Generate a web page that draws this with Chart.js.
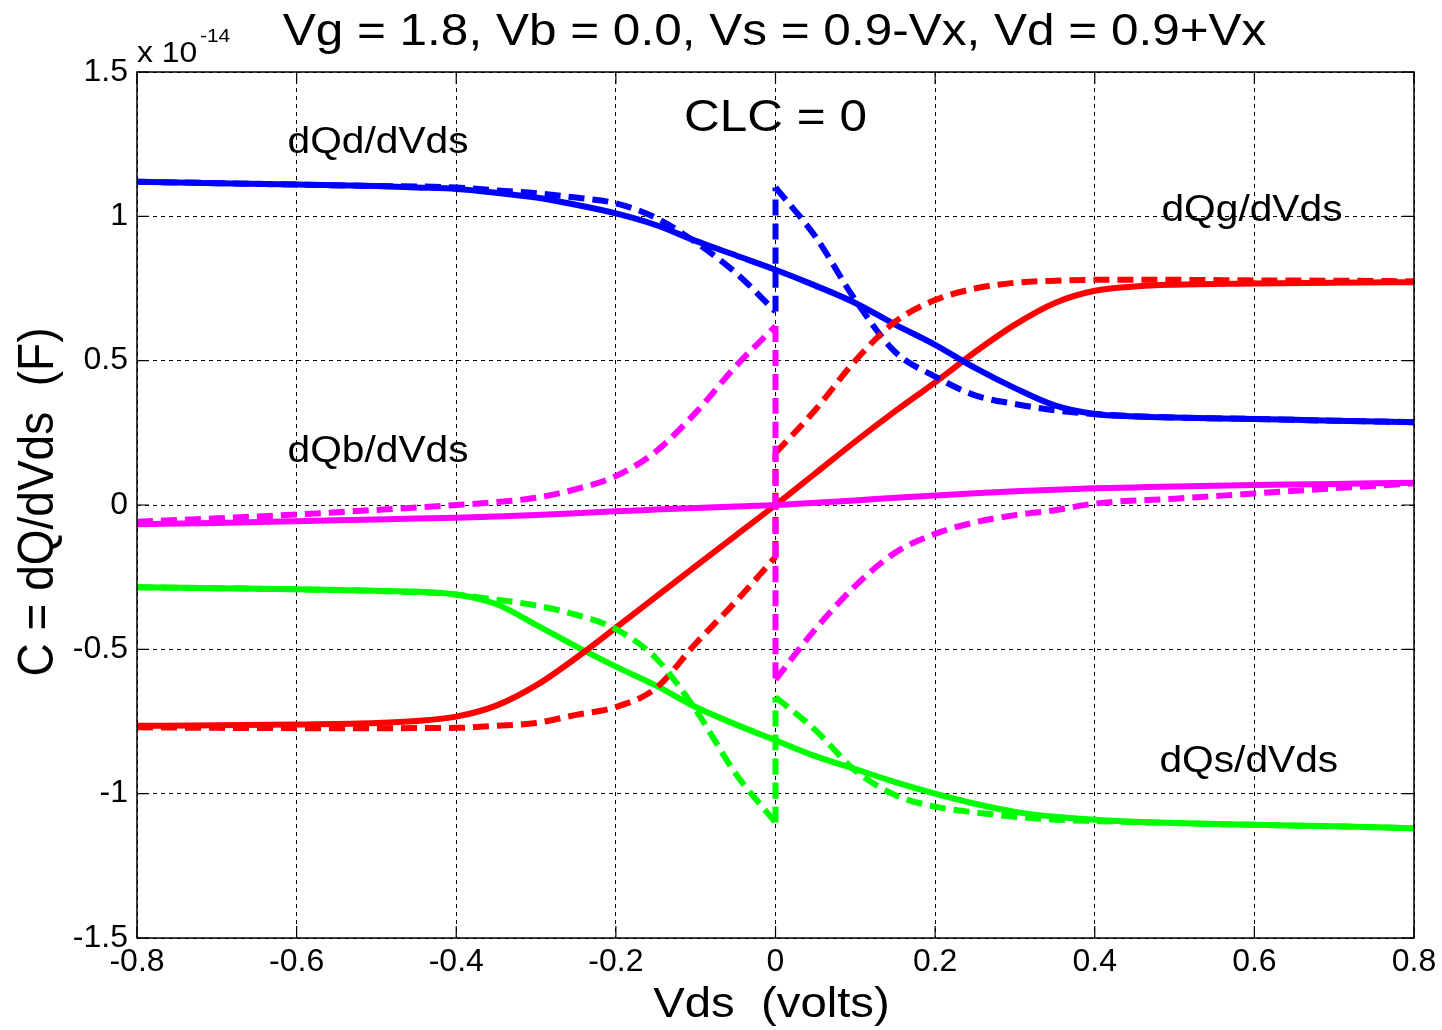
<!DOCTYPE html>
<html><head><meta charset="utf-8">
<script src="https://cdn.jsdelivr.net/npm/chart.js@4/dist/chart.umd.min.js"></script>
<style>html,body{margin:0;padding:0;background:#fff;}#wrap{width:1442px;height:1030px;}</style>
</head><body><div id="wrap"><canvas id="c" width="1442" height="1030"></canvas></div>
<script>
// ---- data (units of 1e-14 F) ----
const xTickVals = [-0.8,-0.6,-0.4,-0.2,0,0.2,0.4,0.6,0.8];
const xTickLabels = ['-0.8','-0.6','-0.4','-0.2','0','0.2','0.4','0.6','0.8'];
const yTickVals = [-1.5,-1,-0.5,0,0.5,1,1.5];
const yTickLabels = ['-1.5','-1','-0.5','0','0.5','1','1.5'];

const xs = [-0.8,-0.7,-0.6,-0.5,-0.45,-0.4,-0.35,-0.3,-0.25,-0.2,-0.15,-0.1,-0.05,0,0.05,0.1,0.15,0.2,0.25,0.3,0.35,0.4,0.45,0.5,0.6,0.7,0.8];
const xLeft = [-0.8,-0.7,-0.6,-0.5,-0.4,-0.35,-0.3,-0.25,-0.2,-0.15,-0.1,-0.05,0];
const xRight = [0,0.05,0.1,0.15,0.2,0.25,0.3,0.35,0.4,0.5,0.6,0.7,0.8];

// solid curves
const dQd = [1.12,1.115,1.11,1.105,1.10,1.095,1.082,1.065,1.04,1.01,0.97,0.915,0.865,0.815,0.76,0.70,0.625,0.555,0.475,0.405,0.345,0.315,0.307,0.303,0.298,0.292,0.287];
const dQg = [-0.765,-0.763,-0.76,-0.755,-0.748,-0.733,-0.695,-0.625,-0.53,-0.425,-0.318,-0.212,-0.106,0,0.11,0.22,0.325,0.425,0.53,0.625,0.70,0.742,0.757,0.763,0.767,0.77,0.772];
const dQb = [-0.067,-0.062,-0.056,-0.05,-0.047,-0.044,-0.04,-0.035,-0.029,-0.022,-0.016,-0.01,-0.005,0,0.008,0.016,0.025,0.033,0.041,0.048,0.053,0.058,0.061,0.064,0.069,0.073,0.077];
const dQs = [-0.285,-0.288,-0.292,-0.297,-0.30,-0.31,-0.343,-0.415,-0.49,-0.56,-0.625,-0.70,-0.76,-0.815,-0.87,-0.915,-0.96,-1.0,-1.035,-1.063,-1.08,-1.09,-1.097,-1.102,-1.108,-1.113,-1.12];

// dashed curves (left branch up to 0-, right branch from 0+)
const dQdDashL = [1.12,1.115,1.11,1.105,1.10,1.09,1.08,1.065,1.045,0.995,0.91,0.805,0.67];
const dQdDashR = [1.10,0.93,0.71,0.53,0.445,0.38,0.35,0.328,0.315,0.303,0.298,0.292,0.287];
const dQgDashL = [-0.77,-0.772,-0.773,-0.773,-0.772,-0.765,-0.755,-0.727,-0.70,-0.635,-0.48,-0.335,-0.18];
const dQgDashR = [0.18,0.33,0.50,0.635,0.71,0.75,0.77,0.777,0.78,0.78,0.778,0.777,0.775];
const dQbDashL = [-0.058,-0.046,-0.033,-0.017,0.0,0.01,0.025,0.055,0.10,0.185,0.32,0.48,0.62];
const dQbDashR = [-0.605,-0.43,-0.28,-0.165,-0.10,-0.06,-0.035,-0.018,0.005,0.022,0.04,0.058,0.075];
const dQsDashL = [-0.285,-0.288,-0.292,-0.298,-0.31,-0.328,-0.348,-0.38,-0.43,-0.53,-0.71,-0.93,-1.10];
const dQsDashR = [-0.665,-0.78,-0.92,-1.005,-1.045,-1.065,-1.08,-1.09,-1.095,-1.102,-1.108,-1.113,-1.12];

const BLUE='#0000ff', RED='#ff0000', MAG='#ff00ff', GRN='#00ff00';
const FONT='"Liberation Sans", Arial, Helvetica, sans-serif';
const SX = 1.1;

function pts(xa, ya){ return xa.map((x,i)=>({x:x, y:ya[i]})); }
function solid(data, color){ return {data:data, borderColor:color, borderWidth:6, pointRadius:0, fill:false, cubicInterpolationMode:'monotone', borderCapStyle:'butt', borderJoinStyle:'round'}; }
function dashed(data, color){ return {data:data, borderColor:color, borderWidth:6, borderDash:[16,8], pointRadius:0, fill:false, cubicInterpolationMode:'monotone', borderCapStyle:'butt', borderJoinStyle:'round'}; }
function jump(L, R){ return [{x:0, y:L[L.length-1]}, {x:0, y:R[0]}]; }

const datasets = [
  dashed(pts(xLeft, dQbDashL), MAG), dashed(jump(dQbDashL, dQbDashR), MAG), dashed(pts(xRight, dQbDashR), MAG),
  dashed(pts(xLeft, dQsDashL), GRN), dashed(jump(dQsDashL, dQsDashR), GRN), dashed(pts(xRight, dQsDashR), GRN),
  dashed(pts(xLeft, dQgDashL), RED), dashed(jump(dQgDashL, dQgDashR), RED), dashed(pts(xRight, dQgDashR), RED),
  dashed(pts(xLeft, dQdDashL), BLUE), dashed(jump(dQdDashL, dQdDashR), BLUE), dashed(pts(xRight, dQdDashR), BLUE),
  solid(pts(xs, dQb), MAG),
  solid(pts(xs, dQd), BLUE),
  solid(pts(xs, dQg), RED),
  solid(pts(xs, dQs), GRN)
];

const decor = {
  id:'decor',
  afterDraw(chart){
    const ctx = chart.ctx, a = chart.chartArea, sx = chart.scales.x, sy = chart.scales.y;
    ctx.save();
    ctx.setLineDash([]);
    ctx.strokeStyle = '#000';
    ctx.lineWidth = 1.5;
    ctx.strokeRect(a.left, a.top, a.right - a.left, a.bottom - a.top);
    ctx.lineWidth = 1.2;
    const tl = 12;
    ctx.beginPath();
    xTickVals.forEach(v => { const p = sx.getPixelForValue(v); ctx.moveTo(p, a.bottom); ctx.lineTo(p, a.bottom - tl); ctx.moveTo(p, a.top); ctx.lineTo(p, a.top + tl); });
    yTickVals.forEach(v => { const p = sy.getPixelForValue(v); ctx.moveTo(a.left, p); ctx.lineTo(a.left + tl, p); ctx.moveTo(a.right, p); ctx.lineTo(a.right - tl, p); });
    ctx.stroke();
    ctx.fillStyle = '#000';
    function txt(s, x, y, size, align){
      ctx.save(); ctx.translate(x, y); ctx.scale(SX, 1);
      ctx.font = size + 'px ' + FONT; ctx.textAlign = align || 'center'; ctx.textBaseline = 'alphabetic';
      ctx.fillText(s, 0, 0); ctx.restore();
    }
    const cx = (a.left + a.right) / 2;
    txt('Vg = 1.8, Vb = 0.0, Vs = 0.9-Vx, Vd = 0.9+Vx', cx - 1, 45, 45);
    txt('Vds  (volts)', cx - 4, 1017, 43);
    txt('x 10', a.left, 62, 29, 'left');
    txt('-14', a.left + 63, 42, 19, 'left');
    txt('CLC = 0', sx.getPixelForValue(0), sy.getPixelForValue(1.297), 45);
    txt('dQd/dVds', sx.getPixelForValue(-0.498), sy.getPixelForValue(1.221), 37);
    txt('dQb/dVds', sx.getPixelForValue(-0.498), sy.getPixelForValue(0.150), 37);
    txt('dQg/dVds', sx.getPixelForValue(0.597), sy.getPixelForValue(0.985), 37);
    txt('dQs/dVds', sx.getPixelForValue(0.593), sy.getPixelForValue(-0.924), 37);
    // y axis title (rotated)
    ctx.save(); ctx.translate(53, 502); ctx.scale(SX, 1); ctx.rotate(-Math.PI/2);
    ctx.font = '46px ' + FONT; ctx.textAlign = 'center'; ctx.textBaseline = 'alphabetic';
    ctx.fillText('C = dQ/dVds  (F)', 0, 0); ctx.restore();
    ctx.restore();
  }
};

new Chart(document.getElementById('c'), {
  type:'line',
  data:{ datasets: datasets },
  options:{
    responsive:false, animation:false,
    layout:{ padding:{ top:72, right:28, left:0, bottom:0 } },
    plugins:{ legend:{display:false}, tooltip:{enabled:false}, title:{display:false} },
    scales:{
      x:{ type:'linear', min:-0.8, max:0.8,
          afterBuildTicks: s => { s.ticks = xTickVals.map(v => ({value:v})); },
          afterFit: s => { s.height = 92; },
          ticks:{ callback:(v,i) => xTickLabels[i], color:'#000', font:{family:FONT, size:32}, padding:5, maxRotation:0, autoSkip:false },
          grid:{ color:'#000', lineWidth:1, drawTicks:false },
          border:{ display:false, dash:[4,4] } },
      y:{ type:'linear', min:-1.5, max:1.5,
          afterBuildTicks: s => { s.ticks = yTickVals.map(v => ({value:v})); },
          afterFit: s => { s.width = 137; },
          ticks:{ callback:(v,i) => yTickLabels[i], color:'#000', font:{family:FONT, size:32}, padding:9, autoSkip:false },
          grid:{ color:'#000', lineWidth:1, drawTicks:false },
          border:{ display:false, dash:[4,4] } }
    }
  },
  plugins:[decor]
});
</script></body></html>
